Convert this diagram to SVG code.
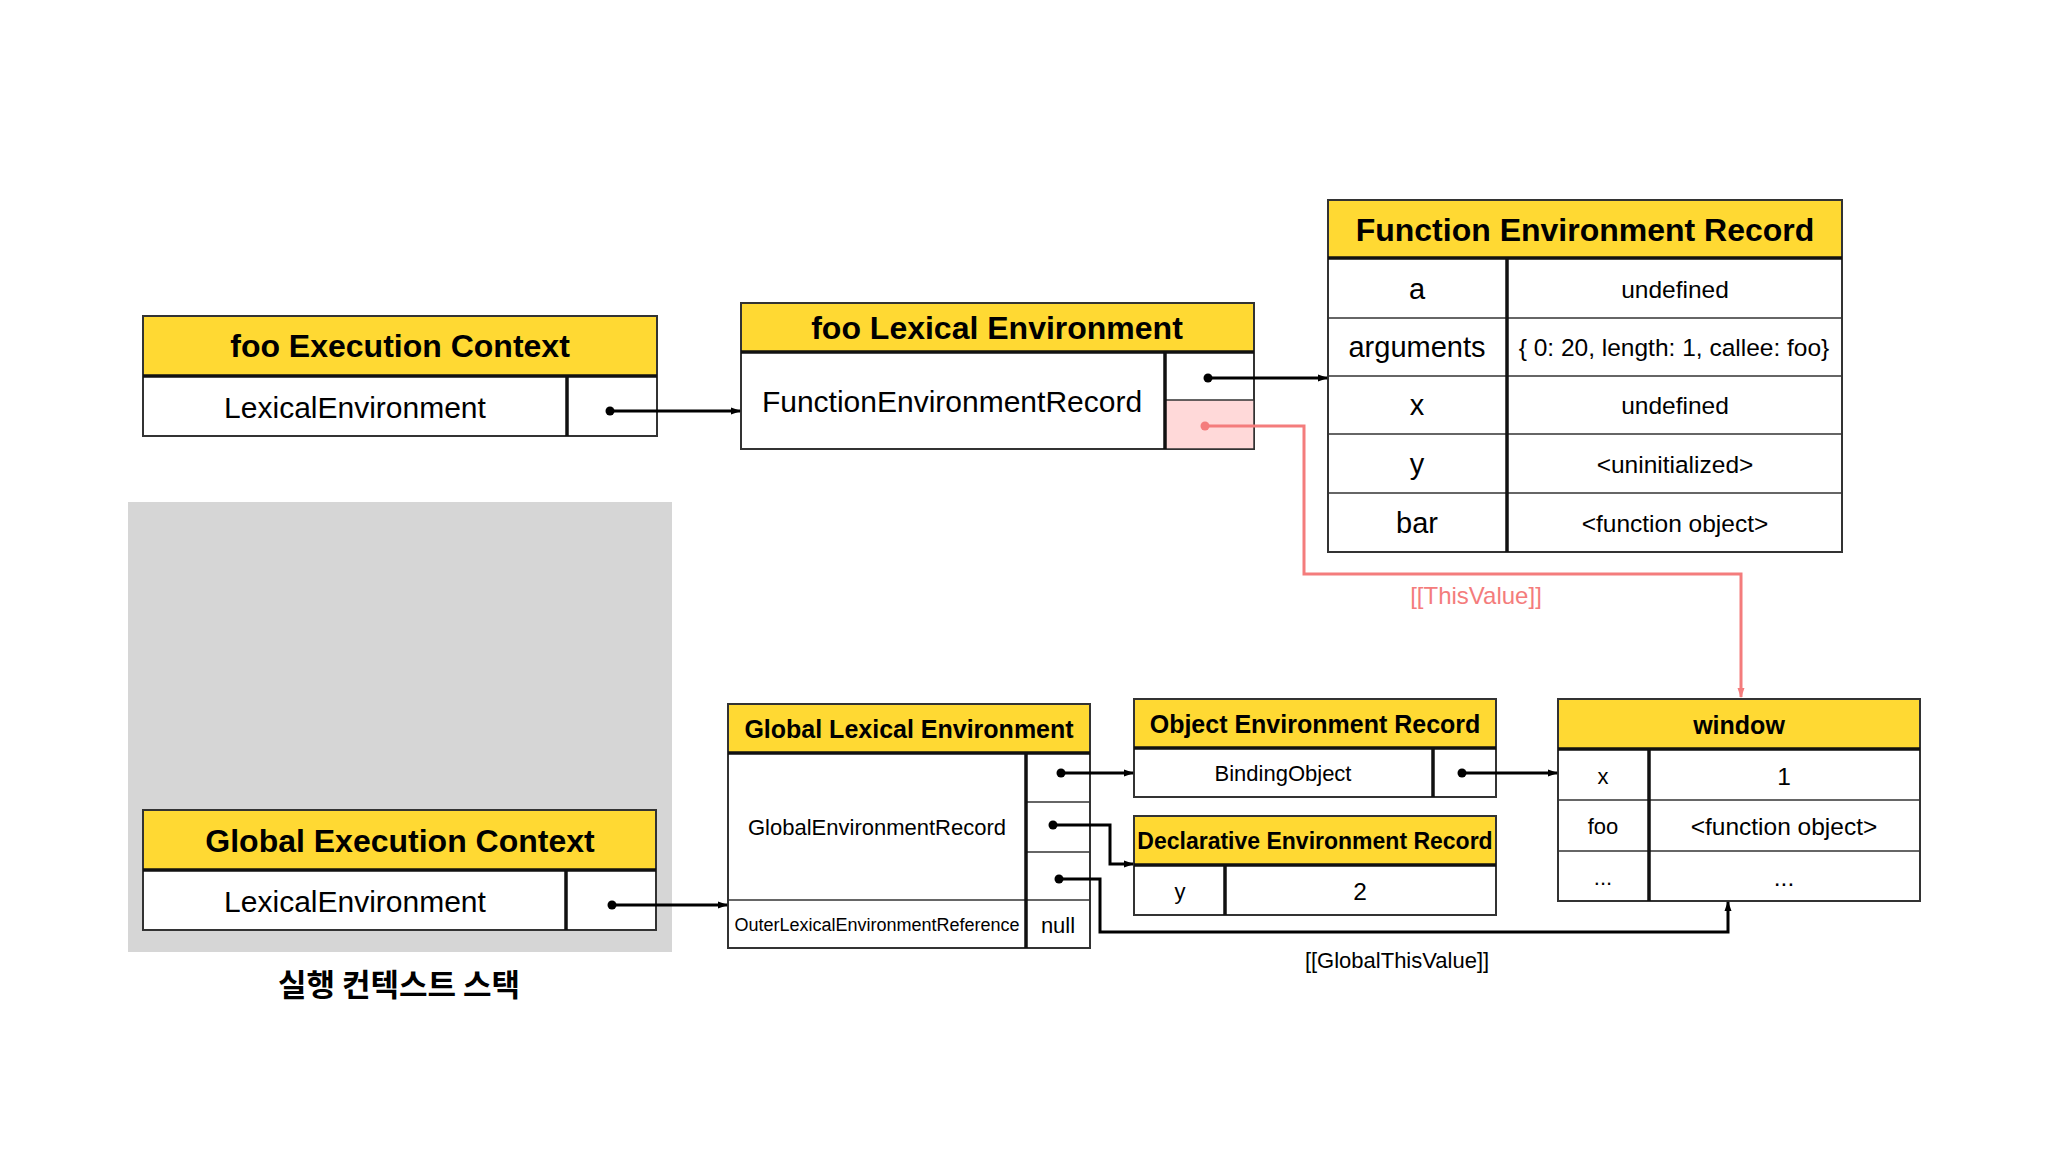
<svg xmlns="http://www.w3.org/2000/svg" width="2048" height="1152" viewBox="0 0 2048 1152">
<style>
.hdr{fill:#FFD933;stroke:#333;stroke-width:2}
.body{fill:#fff;stroke:#333;stroke-width:2}
.thick{stroke:#111;stroke-width:3.5;fill:none}
.thin{stroke:#333;stroke-width:1.5;fill:none}
text{font-family:"Liberation Sans",Arial,sans-serif;fill:#000;text-anchor:middle;dominant-baseline:central}
.t32{font-size:32px;font-weight:bold}
.t25{font-size:25px;font-weight:bold}
.t23{font-size:23px;font-weight:bold}
.r30{font-size:30px}
.r29{font-size:29px}
.r24{font-size:24.5px}
.r22{font-size:22px}
.r18{font-size:18px}
.conn{stroke:#000;stroke-width:3;fill:none}
.pink{stroke:#F47C7C;stroke-width:3;fill:none}
</style>
<defs>
<marker id="ah" markerWidth="10" markerHeight="10" refX="9" refY="5" orient="auto" markerUnits="userSpaceOnUse"><path d="M0,1.5 L10,5 L0,8.5 Z" fill="#000"/></marker>
<marker id="ahp" markerWidth="10" markerHeight="10" refX="9" refY="5" orient="auto" markerUnits="userSpaceOnUse"><path d="M0,1.5 L10,5 L0,8.5 Z" fill="#F47C7C"/></marker>
</defs>
<rect width="2048" height="1152" fill="#fff"/>
<rect id="stack-bg" x="128" y="502" width="544" height="450" fill="#D6D6D6"/>

<g id="foo-ec">
<rect class="hdr" x="143" y="316" width="514" height="60"/>
<rect class="body" x="143" y="376" width="514" height="60"/>
<line class="thick" x1="143" y1="376" x2="657" y2="376"/>
<line class="thick" x1="567" y1="376" x2="567" y2="436"/>
<text class="t32" x="400" y="346">foo Execution Context</text>
<text class="r30" x="355" y="407">LexicalEnvironment</text>
</g>

<g id="foo-le">
<rect class="hdr" x="741" y="303" width="513" height="49"/>
<rect class="body" x="741" y="352" width="513" height="97"/>
<rect x="1165" y="400" width="89" height="49" fill="#FFD9D9" stroke="#333" stroke-width="1.5"/>
<line class="thick" x1="741" y1="352" x2="1254" y2="352"/>
<line class="thick" x1="1165" y1="352" x2="1165" y2="449"/>
<text class="t32" x="997" y="328">foo Lexical Environment</text>
<text class="r30" x="952" y="401">FunctionEnvironmentRecord</text>
</g>

<g id="fer">
<rect class="hdr" x="1328" y="200" width="514" height="58"/>
<rect class="body" x="1328" y="258" width="514" height="294"/>
<line class="thin" x1="1328" y1="318" x2="1842" y2="318"/>
<line class="thin" x1="1328" y1="376" x2="1842" y2="376"/>
<line class="thin" x1="1328" y1="434" x2="1842" y2="434"/>
<line class="thin" x1="1328" y1="493" x2="1842" y2="493"/>
<line class="thick" x1="1328" y1="258" x2="1842" y2="258"/>
<line class="thick" x1="1507" y1="258" x2="1507" y2="552"/>
<text class="t32" x="1585" y="230">Function Environment Record</text>
<text class="r29" x="1417" y="289">a</text>
<text class="r24" x="1675" y="289">undefined</text>
<text class="r29" x="1417" y="347">arguments</text>
<text class="r24" x="1674" y="347">{ 0: 20, length: 1, callee: foo}</text>
<text class="r29" x="1417" y="405">x</text>
<text class="r24" x="1675" y="405">undefined</text>
<text class="r29" x="1417" y="464">y</text>
<text class="r24" x="1675" y="464">&lt;uninitialized&gt;</text>
<text class="r29" x="1417" y="523">bar</text>
<text class="r24" x="1675" y="523">&lt;function object&gt;</text>
</g>

<g id="global-ec">
<rect class="hdr" x="143" y="810" width="513" height="60"/>
<rect class="body" x="143" y="870" width="513" height="60"/>
<line class="thick" x1="143" y1="870" x2="656" y2="870"/>
<line class="thick" x1="566" y1="870" x2="566" y2="930"/>
<text class="t32" x="400" y="841">Global Execution Context</text>
<text class="r30" x="355" y="901">LexicalEnvironment</text>
</g>

<g id="gle">
<rect class="hdr" x="728" y="704" width="362" height="49"/>
<rect class="body" x="728" y="753" width="362" height="195"/>
<line class="thin" x1="1026" y1="802" x2="1090" y2="802"/>
<line class="thin" x1="1026" y1="852" x2="1090" y2="852"/>
<line class="thin" x1="728" y1="900" x2="1090" y2="900"/>
<line class="thick" x1="728" y1="753" x2="1090" y2="753"/>
<line class="thick" x1="1026" y1="753" x2="1026" y2="948"/>
<text class="t25" x="909" y="729">Global Lexical Environment</text>
<text class="r22" x="877" y="827">GlobalEnvironmentRecord</text>
<text class="r18" x="877" y="925">OuterLexicalEnvironmentReference</text>
<text class="r22" x="1058" y="925">null</text>
</g>

<g id="oer">
<rect class="hdr" x="1134" y="699" width="362" height="49"/>
<rect class="body" x="1134" y="748" width="362" height="49"/>
<line class="thick" x1="1134" y1="748" x2="1496" y2="748"/>
<line class="thick" x1="1433" y1="748" x2="1433" y2="797"/>
<text class="t25" x="1315" y="724">Object Environment Record</text>
<text class="r22" x="1283" y="773">BindingObject</text>
</g>

<g id="der">
<rect class="hdr" x="1134" y="816" width="362" height="49"/>
<rect class="body" x="1134" y="865" width="362" height="50"/>
<line class="thick" x1="1134" y1="865" x2="1496" y2="865"/>
<line class="thick" x1="1225" y1="865" x2="1225" y2="915"/>
<text class="t23" x="1315" y="841">Declarative Environment Record</text>
<text class="r22" x="1180" y="891">y</text>
<text class="r24" x="1360" y="891">2</text>
</g>

<g id="window">
<rect class="hdr" x="1558" y="699" width="362" height="50"/>
<rect class="body" x="1558" y="749" width="362" height="152"/>
<line class="thin" x1="1558" y1="800" x2="1920" y2="800"/>
<line class="thin" x1="1558" y1="851" x2="1920" y2="851"/>
<line class="thick" x1="1558" y1="749" x2="1920" y2="749"/>
<line class="thick" x1="1649" y1="749" x2="1649" y2="901"/>
<text class="t25" x="1739" y="725">window</text>
<text class="r22" x="1603" y="776">x</text>
<text class="r24" x="1784" y="776">1</text>
<text class="r22" x="1603" y="826">foo</text>
<text class="r24" x="1784" y="826">&lt;function object&gt;</text>
<text class="r22" x="1603" y="877">...</text>
<text class="r24" x="1784" y="877">...</text>
</g>

<g id="connectors">
<path class="conn" d="M610,411 H740" marker-end="url(#ah)"/>
<circle cx="610" cy="411" r="4.5" fill="#000"/>
<path class="conn" d="M1208,378 H1327" marker-end="url(#ah)"/>
<circle cx="1208" cy="378" r="4.5" fill="#000"/>
<path class="pink" d="M1205,426 H1304 V574 H1741 V697" marker-end="url(#ahp)"/>
<circle cx="1205" cy="426" r="4.5" fill="#F47C7C"/>
<path class="conn" d="M612,905 H727" marker-end="url(#ah)"/>
<circle cx="612" cy="905" r="4.5" fill="#000"/>
<path class="conn" d="M1061,773 H1133" marker-end="url(#ah)"/>
<circle cx="1061" cy="773" r="4.5" fill="#000"/>
<path class="conn" d="M1053,825 H1110 V864 H1133" marker-end="url(#ah)"/>
<circle cx="1053" cy="825" r="4.5" fill="#000"/>
<path class="conn" d="M1059,879 H1100 V932 H1728 V902" marker-end="url(#ah)"/>
<circle cx="1059" cy="879" r="4.5" fill="#000"/>
<path class="conn" d="M1462,773 H1557" marker-end="url(#ah)"/>
<circle cx="1462" cy="773" r="4.5" fill="#000"/>
<text x="1476" y="595" style="font-size:24px;fill:#F47C7C">[[ThisValue]]</text>
<text x="1397" y="960" style="font-size:22px">[[GlobalThisValue]]</text>
</g>

<text x="399" y="982" style="font-family:'Noto Sans CJK KR','Noto Sans',sans-serif;font-size:31px;font-weight:bold">실행 컨텍스트 스택</text>
</svg>
